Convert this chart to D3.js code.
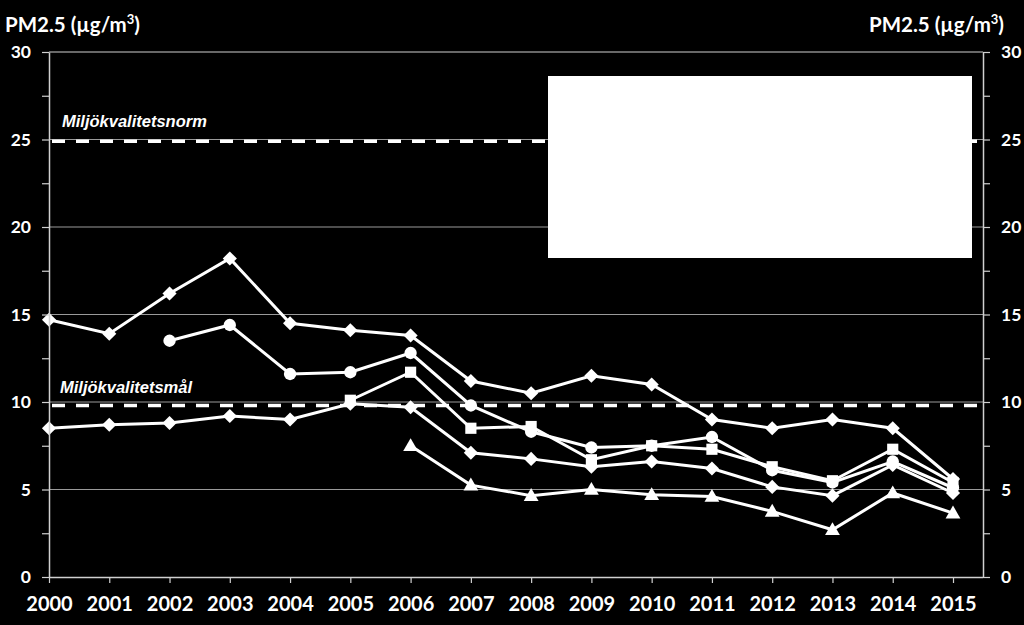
<!DOCTYPE html>
<html>
<head>
<meta charset="utf-8">
<script src="https://cdn.jsdelivr.net/npm/d3@7"></script>
<style>
  body { margin: 0; background: #000; }
  svg { display: block; }
</style>
</head>
<body>
<svg id="chart"></svg>
<script>
// years on the x axis
var years = [2000, 2001, 2002, 2003, 2004, 2005, 2006, 2007, 2008, 2009, 2010, 2011, 2012, 2013, 2014, 2015];

var diamondHigh = [14.7, 13.9, 16.2, 18.2, 14.5, 14.1, 13.8, 11.2, 10.5, 11.5, 11.0, 9.0, 8.5, 9.0, 8.5, 5.6];
var circles     = [null, null, 13.5, 14.4, 11.6, 11.7, 12.8, 9.8, 8.3, 7.4, 7.5, 8.0, 6.1, 5.4, 6.6, 5.1];
var squares     = [null, null, null, null, null, 10.1, 11.7, 8.5, 8.6, 6.7, 7.5, 7.3, 6.3, 5.5, 7.3, 5.4];
var diamondLow  = [8.5, 8.7, 8.8, 9.2, 9.0, 9.9, 9.7, 7.1, 6.75, 6.3, 6.6, 6.2, 5.15, 4.65, 6.4, 4.8];
var triangles   = [null, null, null, null, null, null, 7.5, 5.25, 4.65, 5.0, 4.7, 4.6, 3.75, 2.7, 4.8, 3.65];

// reference lines
var normValue = 24.9;
var goalValue = 9.8;

var yTicks = [0, 5, 10, 15, 20, 25, 30];
var yMinor = [2.5, 7.5, 12.5, 17.5, 22.5, 27.5];

var width = 1024, height = 625;

var svg = d3.select("#chart")
    .attr("width", width)
    .attr("height", height);

svg.append("rect").attr("width", width).attr("height", height).attr("fill", "#000");

var xScale = d3.scaleLinear()
    .domain([2000, 2015])
    .range([49, 953]);
var yScale = d3.scaleLinear()
    .domain([0, 30])
    .range([577, 52]);

var left = 49, right = 983;

// gridlines
svg.append("g")
    .selectAll("line")
    .data(yTicks.filter(function(d){ return d > 0; }))
    .enter()
    .append("line")
    .attr("x1", left).attr("x2", right)
    .attr("y1", function(d){ return yScale(d); })
    .attr("y2", function(d){ return yScale(d); })
    .attr("stroke", function(d){ return d == 30 ? "#d0d0d0" : "#9a9a9a"; })
    .attr("stroke-width", 1.2);

// dashed reference lines
[normValue, goalValue].forEach(function(v){
    svg.append("line")
        .attr("x1", 52).attr("x2", right - 2)
        .attr("y1", yScale(v)).attr("y2", yScale(v))
        .attr("stroke", "#fff")
        .attr("stroke-width", 3.5)
        .attr("stroke-dasharray", "13,11");
});

svg.append("text")
    .attr("x", 62).attr("y", 127)
    .attr("fill", "#fff")
    .style("font-family", "'Liberation Sans', Arial, sans-serif")
    .style("font-weight", "bold").style("font-style", "italic")
    .style("font-size", "16.5px")
    .text("Miljökvalitetsnorm");

svg.append("text")
    .attr("x", 60).attr("y", 393)
    .attr("fill", "#fff")
    .style("font-family", "'Liberation Sans', Arial, sans-serif")
    .style("font-weight", "bold").style("font-style", "italic")
    .style("font-size", "16.5px")
    .text("Miljökvalitetsmål");

// series
var series = [
    {values: diamondHigh, shape: "diamond"},
    {values: circles, shape: "circle"},
    {values: squares, shape: "square"},
    {values: diamondLow, shape: "diamond"},
    {values: triangles, shape: "triangle"}
];

var linegen = d3.line()
    .defined(function(d){ return d.v != null; })
    .x(function(d){ return xScale(d.year); })
    .y(function(d){ return yScale(d.v); });

var symbolFor = {
    diamond: d3.symbol().type(d3.symbolSquare).size(100),
    circle: d3.symbol().type(d3.symbolCircle).size(120),
    square: d3.symbol().type(d3.symbolSquare).size(125),
    triangle: d3.symbol().type(d3.symbolTriangle).size(95)
};

series.forEach(function(s){
    var pts = years.map(function(y, i){ return {year: y, v: s.values[i]}; });
    var g = svg.append("g");
    g.append("path")
        .datum(pts)
        .attr("d", linegen)
        .attr("fill", "none")
        .attr("stroke", "#fff")
        .attr("stroke-width", 3);
    g.selectAll("path.mark")
        .data(pts.filter(function(d){ return d.v != null; }))
        .enter()
        .append("path")
        .attr("class", "mark")
        .attr("d", symbolFor[s.shape])
        .attr("transform", function(d){
            var t = "translate(" + xScale(d.year) + "," + yScale(d.v) + ")";
            if (s.shape == "diamond") t += " rotate(45)";
            if (s.shape == "triangle") t += " translate(0,1)";
            return t;
        })
        .attr("fill", "#fff");
});

// white legend box (blank in the picture)
svg.append("rect")
    .attr("x", 548).attr("y", 76)
    .attr("width", 424).attr("height", 182)
    .attr("fill", "#fff");

// axes
var tickFont = function(sel, size){
    sel.selectAll("text")
        .attr("fill", "#fff")
        .style("font-family", "Lato, 'Open Sans', sans-serif")
        .style("font-weight", "bold")
        .style("font-size", size);
    sel.selectAll("line").attr("stroke", "#d0d0d0").attr("stroke-width", 1.2);
    sel.select(".domain").attr("stroke", "#d0d0d0").attr("stroke-width", 1.5);
};

var yAll = yTicks.concat(yMinor).sort(d3.ascending);

var leftAxis = svg.append("g")
    .attr("transform", "translate(" + left + ",0)")
    .call(d3.axisLeft(yScale).tickValues(yAll).tickSize(7).tickSizeOuter(0)
        .tickPadding(11)
        .tickFormat(function(d){ return yTicks.indexOf(d) >= 0 ? d : ""; }));
tickFont(leftAxis, "17.5px");

var rightAxis = svg.append("g")
    .attr("transform", "translate(" + right + ",0)")
    .call(d3.axisRight(yScale).tickValues(yAll).tickSize(7).tickSizeOuter(0)
        .tickPadding(11)
        .tickFormat(function(d){ return yTicks.indexOf(d) >= 0 ? d : ""; }));
tickFont(rightAxis, "17.5px");

var xAxis = svg.append("g")
    .attr("transform", "translate(0," + yScale(0) + ")")
    .call(d3.axisBottom(xScale).tickValues(years).tickSize(6).tickSizeOuter(0)
        .tickPadding(14)
        .tickFormat(d3.format("d")));
xAxis.select(".domain").attr("d", "M" + left + ",0.5H" + right);
tickFont(xAxis, "20px");

// axis titles
var title = function(x, anchor){
    var t = svg.append("text")
        .attr("x", x).attr("y", 32)
        .attr("text-anchor", anchor)
        .attr("fill", "#fff")
        .style("font-family", "Lato, 'Open Sans', sans-serif")
        .style("font-weight", "bold")
        .style("font-size", "20.5px");
    t.append("tspan").text("PM2.5 (µg/m");
    t.append("tspan").attr("dy", -8).style("font-size", "13px").text("3");
    t.append("tspan").attr("dy", 8).text(")");
};
title(5, "start");
title(1004, "end");
</script>
</body>
</html>
